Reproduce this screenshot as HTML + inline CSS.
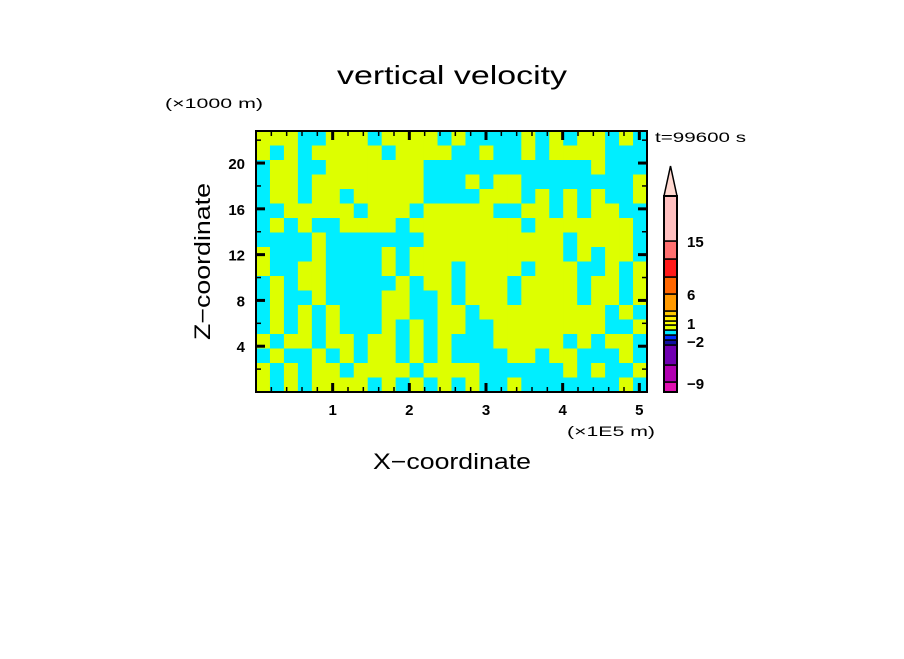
<!DOCTYPE html>
<html><head><meta charset="utf-8"><style>
body{margin:0;background:#fff;}
svg text{font-family:"Liberation Sans",sans-serif;fill:#000;}
</style></head><body>
<svg id="c" width="904" height="654" xmlns="http://www.w3.org/2000/svg">
<text x="337" y="84" font-size="26" textLength="230" lengthAdjust="spacingAndGlyphs">vertical velocity</text>
<text x="165" y="108" font-size="14" textLength="98" lengthAdjust="spacingAndGlyphs">(×1000 m)</text>
<text x="655" y="142" font-size="14" textLength="91" lengthAdjust="spacingAndGlyphs">t=99600 s</text>
<text x="567" y="436" font-size="14" textLength="88" lengthAdjust="spacingAndGlyphs">(×1E5 m)</text>
<text x="373" y="469" font-size="22" textLength="158" lengthAdjust="spacingAndGlyphs">X−coordinate</text>
<text x="0" y="0" font-size="22" textLength="157" lengthAdjust="spacingAndGlyphs" transform="translate(210 340) rotate(-90)">Z−coordinate</text>
<g id="field"></g><g id="axes"></g><g id="cbar"></g>
</svg>
<script>
const xTicks=[1,2,3,4,5];
const yTicks=[4,8,12,16,20];
const xMax=5.1, yMax=22.8;
// rows top to bottom, 28 columns; 1 = yellow (positive), 0 = cyan
const fieldRows=[
"1110011101111010000101011010",
"1010111110111100100101111000",
"0110011111110000000000001000",
"0110111111110001011000000001",
"0110110111110000111010101001",
"0011111011101111100110101100",
"0101001111011111111011111110",
"0000100000001111111111011110",
"1000100001011111111111010110",
"1001100001011101111011100101",
"0101100000101101110111101101",
"0100100001100101110111101101",
"0101010001100110111111111010",
"0101010001010110011111111001",
"1011011011010100011111010110",
"0100101011010100001101100010",
"1010110111101111000000101001",
"1010111101010101001000000010"];
const cbColors=["#e010b0","#b000b0","#7000b0","#1010a0","#0030ff","#00e8ff","#e6ff00","#ffff00","#ffee00","#ffc800","#ff9900","#ff6600","#ff1a1a","#ff7070","#ffbfbf"];
const cbBounds=[392,382,365,345,340,335,330,325,321,316,311,294,277,259,241,196];
const cbLabels=["−9","−2","1","6","15"];
const cbLabelY=[383,341,323,294,241];
const NS="http://www.w3.org/2000/svg";
const L=256,R=647,T=131,B=392;
const sx=v=>L+(v/xMax)*(R-L), sy=v=>B-(v/yMax)*(B-T);
function mk(tag,at,parent){const e=document.createElementNS(NS,tag);for(const k in at)e.setAttribute(k,at[k]);parent.appendChild(e);return e;}
const f=document.getElementById('field');
const nr=fieldRows.length,nc=fieldRows[0].length;
const cw=(R-L)/nc,ch=(B-T)/nr;
fieldRows.forEach((row,i)=>{for(let j=0;j<nc;j++){
const r=mk('rect',{x:L+j*cw,y:T+i*ch,width:cw+0.5,height:ch+0.5,fill:row[j]==='1'?'#ddff00':'#00eeff'},f);

}});
const a=document.getElementById('axes');
const fr=mk('rect',{x:L,y:T,width:R-L,height:B-T,fill:'none',stroke:'#000','stroke-width':2},a);


for(let v=0.2;v<xMax;v+=0.2){const x=sx(v);const maj=Math.abs(v-Math.round(v))<0.01;const len=maj?9:5;
mk('line',{x1:x,y1:B,x2:x,y2:B-len,stroke:'#000','stroke-width':maj?3:1.5},a);
mk('line',{x1:x,y1:T,x2:x,y2:T+len,stroke:'#000','stroke-width':maj?3:1.5},a);}
for(let v=2;v<yMax;v+=2){const y=sy(v);const maj=v%4===0;const len=maj?9:5;
mk('line',{x1:L,y1:y,x2:L+len,y2:y,stroke:'#000','stroke-width':maj?3:1.5},a);
mk('line',{x1:R,y1:y,x2:R-len,y2:y,stroke:'#000','stroke-width':maj?3:1.5},a);}
xTicks.forEach(v=>{const t=mk('text',{x:sx(v),y:B+23,'font-size':15,'font-weight':'bold','text-anchor':'middle'},a);t.textContent=v;

});
yTicks.forEach(v=>{const t=mk('text',{x:L-11,y:sy(v)+6,'font-size':15,'font-weight':'bold','text-anchor':'end'},a);t.textContent=v;

});
const c=document.getElementById('cbar');
cbColors.forEach((col,i)=>{const r=mk('rect',{x:664,y:cbBounds[i+1],width:13,height:cbBounds[i]-cbBounds[i+1],fill:col,stroke:'#000','stroke-width':1.5},c);

});
const ar=mk('polygon',{points:'664,196 677,196 670.5,166',fill:'#ffd8d0',stroke:'#000','stroke-width':1.5},c);


mk('rect',{x:664,y:196,width:13,height:196,fill:'none',stroke:'#000','stroke-width':2},c);
cbLabels.forEach((s,i)=>{const t=mk('text',{x:687,y:cbLabelY[i]+6,'font-size':15,'font-weight':'bold'},c);t.textContent=s;

});
</script>
</body></html>
